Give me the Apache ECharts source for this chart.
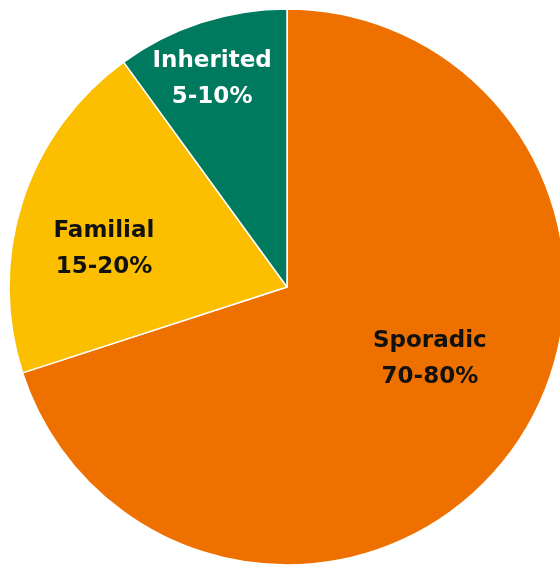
<!DOCTYPE html>
<html>
<head>
<meta charset="utf-8">
<script src="https://cdn.jsdelivr.net/npm/echarts@6/dist/echarts.min.js"></script>
<style>
html,body{margin:0;padding:0;background:#fff;}
#chart{width:560px;height:568px;}
</style>
</head>
<body>
<div id="chart"></div>
<script>
const categories = ['Sporadic', 'Familial', 'Inherited'];
const values = [70, 20, 10];
const rangeLabels = ['70-80%', '15-20%', '5-10%'];
const colors = ['#EE7100', '#FBBF00', '#007A5F'];
const labelColors = ['#111111', '#111111', '#ffffff'];
const labelShift = [[28, -11], [-48, 6], [-31, -73]];

const chart = echarts.init(document.getElementById('chart'), null, {renderer: 'canvas'});
chart.setOption({
  animation: false,
  series: [{
    type: 'pie',
    center: [287, 287],
    radius: [0, 278],
    startAngle: 90,
    clockwise: true,
    silent: true,
    itemStyle: {borderColor: '#ffffff', borderWidth: 1.5},
    label: {
      show: true,
      position: 'inside',
      formatter: function (p) { return p.name + '\n' + rangeLabels[p.dataIndex]; },
      fontFamily: 'DejaVu Sans',
      fontWeight: 'bold',
      fontSize: 23,
      lineHeight: 36,
      align: 'center'
    },
    labelLine: {show: false},
    labelLayout: function (params) {
      const s = labelShift[params.dataIndex];
      return {dx: s[0], dy: s[1]};
    },
    data: categories.map(function (c, i) {
      return {
        name: c,
        value: values[i],
        itemStyle: {color: colors[i]},
        label: {color: labelColors[i]}
      };
    })
  }]
});
</script>
</body>
</html>
